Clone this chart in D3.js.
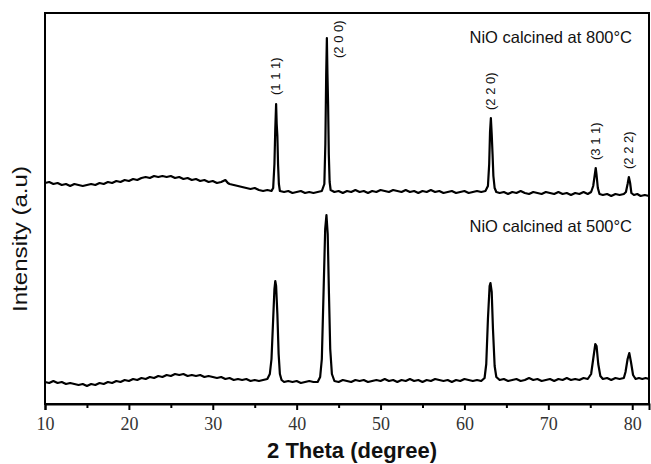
<!DOCTYPE html>
<html>
<head>
<meta charset="utf-8">
<script src="https://cdn.jsdelivr.net/npm/d3@7"></script>
<style>
  html, body { margin: 0; padding: 0; background: #fff; }
  svg { display: block; }
  .tick text { font-family: "Liberation Serif", "Times New Roman", serif; }
</style>
</head>
<body>
<svg id="chart" width="651" height="464"></svg>
<script>
// ---- DATA ----
const theta800 = [
  10.0,10.5,11.0,11.5,12.0,12.5,13.0,13.5,14.0,14.5,15.0,15.5,16.0,16.5,17.0,17.5,18.0,18.5,19.0,19.5,
  20.0,20.5,21.0,21.5,22.0,22.5,23.0,23.5,24.0,24.5,25.0,25.5,26.0,26.5,27.0,27.5,28.0,28.5,29.0,29.5,
  30.0,30.5,31.0,31.5,31.8,32.0,32.5,33.0,33.5,34.0,34.5,35.0,35.5,36.0,36.5,37.0,37.2,37.35,37.45,37.55,
  37.62,37.7,37.78,37.88,38.0,38.5,39.0,39.5,40.0,40.5,41.0,41.5,42.0,42.5,43.0,43.3,43.42,43.52,43.6,43.67,
  43.75,43.83,43.93,44.05,44.5,45.0,45.5,46.0,46.5,47.0,47.5,48.0,48.5,49.0,49.5,50.0,50.5,51.0,51.5,52.0,
  52.5,53.0,53.5,54.0,54.5,55.0,55.5,56.0,56.5,57.0,57.5,58.0,58.5,59.0,59.5,60.0,60.5,61.0,61.5,62.0,
  62.5,62.8,62.95,63.05,63.15,63.25,63.35,63.45,63.6,63.8,64.2,64.7,65.2,65.7,66.2,66.7,67.2,67.7,68.2,68.7,
  69.2,69.7,70.2,70.7,71.2,71.7,72.2,72.7,73.2,73.7,74.2,74.7,75.1,75.35,75.5,75.65,75.75,75.9,76.1,76.5,
  77.0,77.5,78.0,78.5,79.0,79.25,79.45,79.6,79.75,79.9,80.2,80.6,81.0,81.5,82.0
];
const int800 = [
  221,222,220,221,219,220,218,220,219,218,219,220,219,221,220,222,221,223,222,224,
  223,225,224,226,227,226,228,227,228,227,228,226,227,225,226,224,225,223,224,222,
  223,221,222,224,221,220,219,218,217,216,215,216,214,213,214,213,216,240,275,300,
  280,268,240,220,213,212,213,211,212,213,211,212,211,212,213,220,260,330,366,330,
  298,250,222,214,212,213,211,213,212,214,212,213,211,213,212,214,213,212,214,213,
  212,214,212,213,211,213,212,214,212,213,211,212,213,211,212,213,211,212,213,212,
  213,218,240,272,286,270,250,228,216,212,211,212,210,212,211,213,211,210,212,211,
  210,212,211,210,212,210,211,209,211,210,212,210,212,218,227,236,229,216,210,209,
  210,208,210,209,210,212,220,227,221,211,209,210,208,209,208
];

const theta500 = [
  10.0,10.5,11.0,11.5,12.0,12.5,13.0,13.5,14.0,14.5,15.0,15.5,16.0,16.5,17.0,17.5,18.0,18.5,19.0,19.5,
  20.0,20.5,21.0,21.5,22.0,22.5,23.0,23.5,24.0,24.5,25.0,25.5,26.0,26.5,27.0,27.5,28.0,28.5,29.0,29.5,
  30.0,30.5,31.0,31.5,32.0,32.5,33.0,33.5,34.0,34.5,35.0,35.5,36.0,36.5,36.8,37.0,37.2,37.35,37.45,37.55,
  37.7,37.85,38.0,38.2,38.5,39.0,39.5,40.0,40.5,41.0,41.5,42.0,42.5,42.8,43.0,43.2,43.4,43.55,43.7,43.85,
  44.0,44.2,44.5,45.0,45.5,46.0,46.5,47.0,47.5,48.0,48.5,49.0,49.5,50.0,50.5,51.0,51.5,52.0,52.5,53.0,
  53.5,54.0,54.5,55.0,55.5,56.0,56.5,57.0,57.5,58.0,58.5,59.0,59.5,60.0,60.5,61.0,61.5,62.0,62.4,62.6,
  62.8,63.0,63.1,63.25,63.4,63.6,63.8,64.2,64.7,65.2,65.7,66.2,66.7,67.2,67.7,68.2,68.7,69.2,69.7,70.2,
  70.7,71.2,71.7,72.2,72.7,73.2,73.7,74.2,74.7,75.1,75.35,75.6,75.75,75.95,76.2,76.5,77.0,77.5,78.0,78.5,
  79.0,79.2,79.45,79.65,79.85,80.1,80.4,80.8,81.2,81.6,82.0
];
const int500 = [
  22,21,23,21,22,20,21,20,19,20,18,20,19,21,20,22,21,23,22,24,
  23,25,24,26,25,27,26,28,27,29,28,30,29,30,28,29,28,29,27,28,
  27,26,27,25,26,24,25,24,25,23,24,23,24,25,30,45,85,115,123,118,
  90,50,30,24,22,23,22,23,21,22,23,22,22,27,45,110,175,189,170,110,
  55,30,23,22,24,23,22,24,23,24,22,23,24,23,25,23,24,22,24,23,
  25,23,24,22,24,23,25,24,23,24,22,24,23,25,24,23,24,23,26,40,
  85,118,121,112,75,38,27,24,25,23,24,25,23,24,26,24,25,23,24,25,
  23,25,24,26,24,25,24,26,25,30,45,60,58,40,28,25,26,24,26,25,
  26,32,45,51,42,29,25,26,25,26,25
];

const peakLabels = ["(1 1 1)", "(2 0 0)", "(2 2 0)", "(3 1 1)", "(2 2 2)"];
const labelTheta = [37.55, 45.1, 63.15, 75.65, 79.6];
const labelIntensity = [309, 346, 294, 244, 235];

const seriesNames = ["NiO calcined at 800\u00B0C", "NiO calcined at 500\u00B0C"];
const seriesNameIntensity = [361, 172];

const xTicks = [10, 20, 30, 40, 50, 60, 70, 80];
const xMinorTicks = [15, 25, 35, 45, 55, 65, 75];
const xDomain = [10, 82];
const yDomain = [0, 391];
const xTitle = "2 Theta (degree)";
const yTitle = "Intensity (a.u)";

// ---- LAYOUT ----
const svg = d3.select("#chart");
const mLeft = 45, mRight = 649, mTop = 13, mBottom = 404;

const x = d3.scaleLinear().domain(xDomain).range([mLeft, mRight]);
const y = d3.scaleLinear().domain(yDomain).range([mBottom, mTop]);

// frame
svg.append("rect")
  .attr("x", mLeft).attr("y", mTop)
  .attr("width", mRight - mLeft).attr("height", mBottom - mTop)
  .attr("fill", "none").attr("stroke", "#000").attr("stroke-width", 2);

// x axis
const xAxis = d3.axisBottom(x).tickValues(xTicks).tickSize(6).tickPadding(7).tickFormat(d3.format("d"));
const gx = svg.append("g").attr("transform", `translate(0,${mBottom})`).call(xAxis);
gx.attr("font-family", "'Liberation Serif', 'Times New Roman', serif");
gx.select(".domain").attr("stroke-width", 2);
gx.selectAll(".tick line").attr("stroke-width", 2);
gx.selectAll(".tick text")
  .style("font-family", "'Liberation Serif', 'Times New Roman', serif")
  .attr("font-size", 18).attr("fill", "#333");

const xMinor = d3.axisBottom(x).tickValues(xMinorTicks).tickSize(4).tickFormat("");
const gxm = svg.append("g").attr("transform", `translate(0,${mBottom})`).call(xMinor);
gxm.select(".domain").remove();
gxm.selectAll(".tick line").attr("stroke-width", 2);

// lines
const line = d3.line().x(d => x(d[0])).y(d => y(d[1]));
const s800 = theta800.map((t, i) => [t, int800[i]]);
const s500 = theta500.map((t, i) => [t, int500[i]]);
[s800, s500].forEach(s => {
  svg.append("path").datum(s)
    .attr("d", line)
    .attr("fill", "none").attr("stroke", "#000")
    .attr("stroke-width", 2.2).attr("stroke-linejoin", "round");
});

// peak labels
peakLabels.forEach((lab, i) => {
  svg.append("text")
    .attr("transform", `translate(${x(labelTheta[i]) + 4},${y(labelIntensity[i])}) rotate(-90)`)
    .attr("font-family", "'Liberation Sans', Arial, sans-serif")
    .attr("font-size", 13).attr("fill", "#111")
    .text(lab);
});

// series names
seriesNames.forEach((n, i) => {
  svg.append("text")
    .attr("x", 632).attr("y", y(seriesNameIntensity[i]))
    .attr("text-anchor", "end")
    .attr("font-family", "'Liberation Sans', Arial, sans-serif")
    .attr("font-size", 16.5).attr("fill", "#111")
    .text(n);
});

// axis titles
svg.append("text")
  .attr("x", 352).attr("y", 458)
  .attr("text-anchor", "middle")
  .attr("font-family", "'Liberation Sans', Arial, sans-serif")
  .attr("font-size", 22).attr("font-weight", "bold").attr("fill", "#111")
  .text(xTitle);

svg.append("text")
  .attr("transform", "translate(27,239) rotate(-90)")
  .attr("text-anchor", "middle")
  .attr("font-family", "'Liberation Sans', Arial, sans-serif")
  .attr("font-size", 21).attr("fill", "#111")
  .attr("textLength", 146).attr("lengthAdjust", "spacingAndGlyphs")
  .text(yTitle);
</script>
</body>
</html>
